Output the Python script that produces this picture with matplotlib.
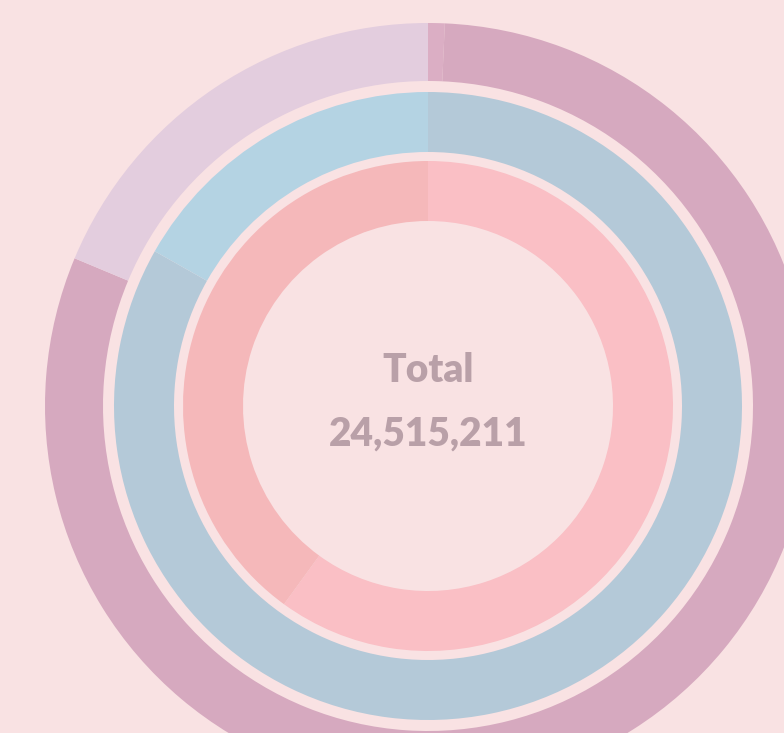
import matplotlib
matplotlib.use('Agg')
import matplotlib.pyplot as plt

# values (start at 12 o'clock, clockwise)
outer_labels = ["Other", "Group A", "Group B"]
outer_values = [171606, 19759260, 4584345]
middle_labels = ["Type A", "Type B"]
middle_values = [20396656, 4118555]
inner_labels = ["Part A", "Part B"]
inner_values = [14709127, 9806084]
total = 24515211

outer_colors = ["#dbaec4", "#d6a9bf", "#e3cdde"]
middle_colors = ["#b4c9d8", "#b4d3e3"]
inner_colors = ["#fabfc5", "#f5b8ba"]
bg = "#f9e2e3"

W, H = 784, 733
cx, cy = 428, H - 406

fig = plt.figure(figsize=(W / 100, H / 100), dpi=100, facecolor=bg)
ax = fig.add_axes([0, 0, 1, 1])
ax.set_facecolor(bg)

rings = [
    (outer_values, outer_colors, 383, 58),
    (middle_values, middle_colors, 314, 60),
    (inner_values, inner_colors, 245, 60),
]
for vals, cols, r, w in rings:
    ax.pie(vals, colors=cols, radius=r, center=(cx, cy), startangle=90,
           counterclock=False, frame=True,
           wedgeprops=dict(width=w, edgecolor='none', linewidth=0))

txt = dict(ha='center', va='center', fontsize=28, fontweight='heavy',
           family=['Lato', 'DejaVu Sans'], color="#b9a0a8")
ax.text(cx, cy + 35, "Total", **txt)
ax.text(cx, cy - 28, f"{total:,}", **txt)

ax.set_xlim(0, W)
ax.set_ylim(0, H)
ax.set_aspect('equal')
ax.axis('off')

plt.savefig("out.png", dpi=100, facecolor=bg)
